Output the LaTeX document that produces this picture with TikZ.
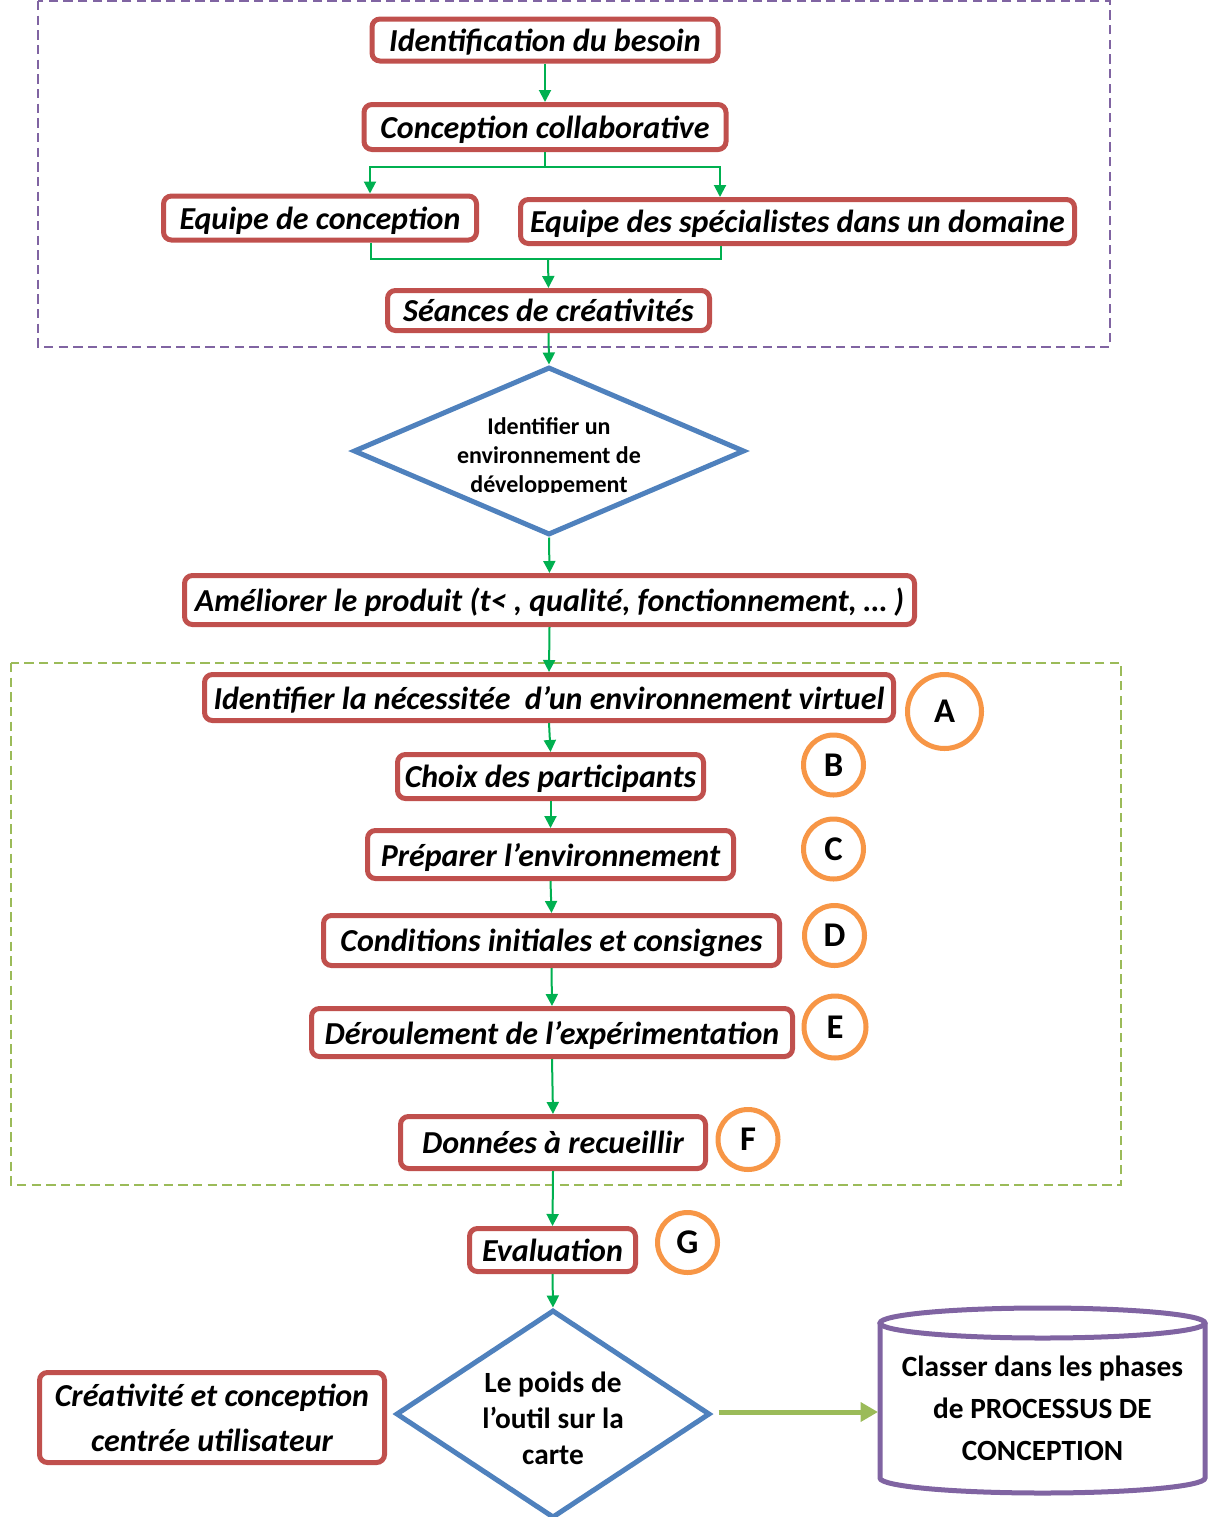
\documentclass[tikz,border=0pt]{standalone}
\usepackage{fontspec}
\setmainfont{Carlito}
\usetikzlibrary{shapes.geometric,arrows.meta,calc}
\definecolor{boxred}{HTML}{C0504D}
\definecolor{dblue}{HTML}{4F81BD}
\definecolor{orng}{HTML}{F79646}
\definecolor{purp}{HTML}{8064A2}
\definecolor{lgreen}{HTML}{9BBB59}
\definecolor{agreen}{HTML}{00B050}
\newcommand\pxl[1]{#1*0.75pt}
\begin{document}
\begin{tikzpicture}[x=0.75pt,y=-0.75pt,
  box/.style={draw=boxred, line width=3.75pt, rounded corners=6pt, fill=white, inner sep=0pt,
    text depth=0pt, font=\bfseries\itshape\fontsize{24}{28}\selectfont},
  circ/.style={circle, draw=orng, line width=3.75pt, fill=white, inner sep=0pt,
    font=\bfseries\fontsize{26}{28}\selectfont},
  dia/.style={diamond, draw=dblue, line width=3.75pt, fill=white, inner sep=0pt},
  conn/.style={draw=agreen, line width=1.5pt},
  arr/.style={conn, -{Triangle[length=9pt,width=9pt]}},
  bigarr/.style={draw=lgreen, line width=3.75pt, -{Triangle[length=13pt,width=14pt]}},
  frame/.style={line width=1.8pt, dash pattern=on 7pt off 4pt},
  dtext/.style={align=center, font=\bfseries\fontsize{18}{21.75}\selectfont},
  d2text/.style={align=center, font=\bfseries\fontsize{22}{27}\selectfont},
]
\useasboundingbox (0,0) rectangle (1208,1517);

% frames
\draw[frame, draw=purp] (38,1) rectangle (1110,347);
\draw[frame, draw=lgreen] (11,663) rectangle (1121,1185);

% top part
\node[box, minimum width=\pxl{346}, minimum height=\pxl{42}] (b1) at (545,40) {Identification du besoin};
\node[box, minimum width=\pxl{362}, minimum height=\pxl{45}] (b2) at (545,127) {Conception collaborative};
\node[box, minimum width=\pxl{313}, minimum height=\pxl{44}] (b3) at (320,218) {Equipe de conception};
\node[box, minimum width=\pxl{554}, minimum height=\pxl{44}] (b4) at (797.5,221.5) {Equipe des spécialistes dans un domaine};
\node[box, minimum width=\pxl{322}, minimum height=\pxl{40}] (b5) at (548.5,310.5) {Séances de créativités};

\coordinate (j1) at (545,167);
\coordinate (j2) at (548,259);
\draw[arr] (b1.south) -- (b2.north);
\draw[conn] (b2.south) -- (j1);
\draw[arr] (j1) -| ($(b3.north)+(50,0)$);
\draw[arr] (j1) -| ($(b4.north)+(-77.5,0)$);
\draw[conn] ($(b3.south)+(51,0)$) |- (j2) -| ($(b4.south)+(-76.5,0)$);
\draw[arr] (j2) -- (b5.north);

% diamond 1
\node[dia, minimum width=\pxl{391}, minimum height=\pxl{168}] (d1) at (549,451) {};
\begin{scope}
  \clip (360,395) rectangle (740,492);
  \node[dtext] (d1t) at (549,457) {Identifier un\\environnement de\\développement};
\end{scope}
\draw[arr] (b5.south) -- (d1.north);

\node[box, minimum width=\pxl{730}, minimum height=\pxl{49}] (b6) at (549.5,600) {Améliorer le produit (t< , qualité, fonctionnement, … )};
\draw[arr] (d1.south) -- (b6.north);

% green frame steps
\node[box, minimum width=\pxl{689}, minimum height=\pxl{46}] (b7) at (549,697.5) {Identifier la nécessitée \ d’un environnement virtuel};
\node[box, minimum width=\pxl{306}, minimum height=\pxl{44}] (b8) at (550.5,776.5) {Choix des participants};
\node[box, minimum width=\pxl{366}, minimum height=\pxl{48}] (b9) at (550.5,854.5) {Préparer l’environnement};
\node[box, minimum width=\pxl{456}, minimum height=\pxl{50}] (b10) at (551.5,940.5) {Conditions initiales et consignes};
\node[box, minimum width=\pxl{481}, minimum height=\pxl{48}] (b11) at (552,1032.5) {Déroulement de l’expérimentation};
\node[box, minimum width=\pxl{305}, minimum height=\pxl{52}] (b12) at (553,1142.5) {Données à recueillir};
\node[box, minimum width=\pxl{166}, minimum height=\pxl{43}] (b13) at (552.5,1250) {Evaluation};

\node[circ, minimum size=\pxl{74}] (cA) at (944.5,711.5) {A};
\node[circ, minimum size=\pxl{60}] (cB) at (833.5,765) {B};
\node[circ, minimum size=\pxl{60}] (cC) at (833.5,849) {C};
\node[circ, minimum size=\pxl{60}] (cD) at (834.5,935.5) {D};
\node[circ, minimum size=\pxl{62}] (cE) at (835,1027) {E};
\node[circ, minimum size=\pxl{60}] (cF) at (748,1139.5) {F};
\node[circ, minimum size=\pxl{60}] (cG) at (687.5,1242.5) {G};

\draw[arr] (b6.south) -- (b7.north);
\draw[arr] (b7.south) -- (b8.north);
\draw[arr] (b8.south) -- (b9.north);
\draw[arr] (b9.south) -- (b10.north);
\draw[arr] (b10.south) -- (b11.north);
\draw[arr] (b11.south) -- (b12.north);
\draw[arr] (b12.south) -- (b13.north);

% bottom
\node[dia, minimum width=\pxl{314}, minimum height=\pxl{208}] (d2) at (553,1414) {};
\node[d2text] (d2t) at (553,1418) {Le poids de\\l’outil sur la\\carte};
\draw[arr] (b13.south) -- (d2.north);

\node[box, minimum width=\pxl{345}, minimum height=\pxl{90}, align=center,
  font=\bfseries\itshape\fontsize{24}{33.75}\selectfont] (b14) at (212,1417.5)
  {Créativité et conception\\centrée utilisateur};

% cylinder
\draw[draw=purp, line width=3.75pt, fill=white] (880,1323) -- (880,1478)
  arc[start angle=180, end angle=0, x radius=162.5, y radius=15] -- (1205,1323);
\draw[draw=purp, line width=3.75pt] (1042.5,1323) ellipse [x radius=162.5, y radius=15];
\node[align=center, font=\bfseries\fontsize{22}{31.5}\selectfont] (cyl) at (1042.5,1408)
  {Classer dans les phases\\de PROCESSUS DE\\CONCEPTION};
\coordinate (cylw) at (878,1412);
\draw[bigarr] ($(d2.east)+(6,-2)$) -- (cylw);
\end{tikzpicture}
\end{document}
